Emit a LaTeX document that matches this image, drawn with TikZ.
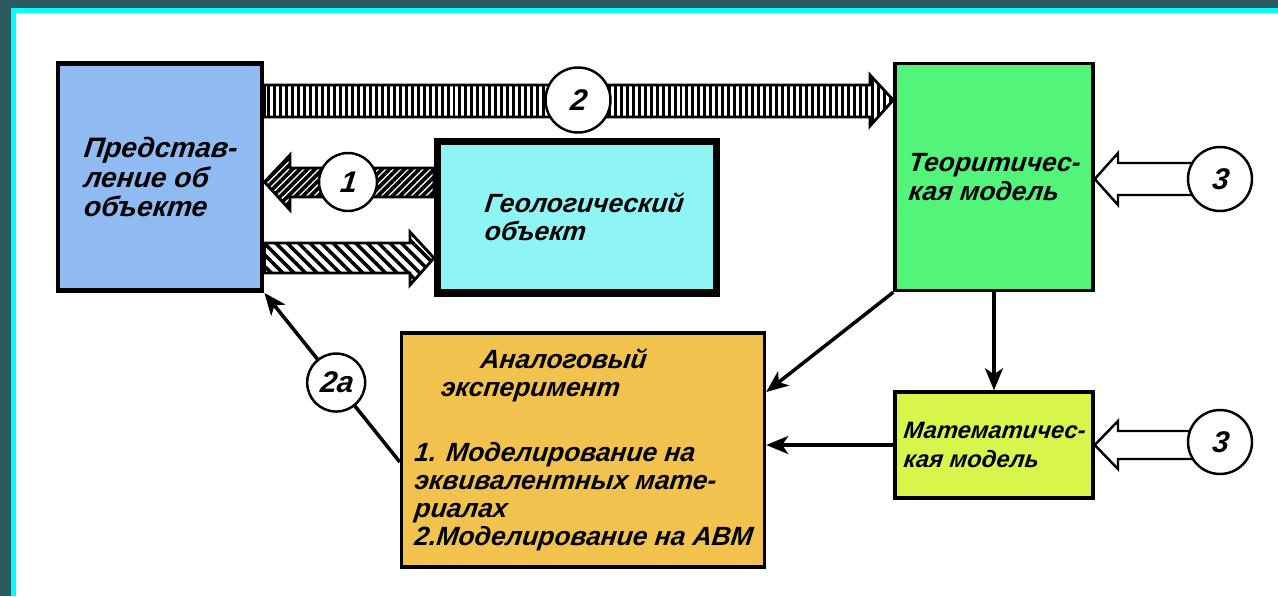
\documentclass[tikz,border=0pt]{standalone}
\usepackage{fontspec}
\setmainfont{Liberation Sans}[BoldItalicFeatures={FakeSlant=0.12}]
\usepackage{tikz}
\usepackage{xcolor}
\usetikzlibrary{positioning,arrows.meta,calc,backgrounds,patterns.meta}

\definecolor{frameteal}{HTML}{2B5B5E}
\definecolor{framecyan}{HTML}{00FFFF}
\definecolor{predblue}{HTML}{8FBAF2}
\definecolor{geocyan}{HTML}{8EF4F4}
\definecolor{teorgreen}{HTML}{52F47A}
\definecolor{mathlime}{HTML}{D7F54B}
\definecolor{analogorange}{HTML}{F2C24F}

\begin{document}
\begin{tikzpicture}[x=0.02cm, y=-0.02cm,
    box/.style={draw, rectangle, inner sep=0pt, align=left,
      font=\fontsize{15}{16}\selectfont\bfseries\itshape},
    numcirc/.style={circle, draw, line width=1.4pt, fill=white, inner sep=0pt,
      font=\fontsize{17}{17}\selectfont\bfseries\itshape},
    conn/.style={line width=2pt, -{Stealth[length=0.44cm,width=0.36cm,inset=0.12cm]}},
    fatarrow/.style={draw, line width=1.6pt, line join=miter},
    hollow/.style={draw, line width=1.4pt, fill=white, line join=miter}]

        \useasboundingbox (0,0) rectangle (1278,596);

        % Draw the blocks
        \node[box, line width=2.8pt, fill=predblue, minimum width=4.08cm, minimum height=4.54cm,
          font=\fontsize{16}{17}\selectfont\bfseries\itshape] (pred) at (160,177) {Представ-\\ление об\\объекте};
        \node[box, line width=4pt, fill=geocyan, minimum width=5.58cm, minimum height=3.04cm] (geo) at (577,217) {\hspace*{0.5em}Геологический\\\hspace*{0.5em}объект};
        \node[box, line width=2pt, fill=teorgreen, minimum width=3.96cm, minimum height=4.54cm] (teor) at (994,177) {Теоритичес-\\кая модель};
        \node[box, line width=2pt, fill=mathlime, minimum width=3.96cm, minimum height=2.12cm,
          font=\fontsize{13.5}{16}\selectfont\bfseries\itshape] (math) at (994,445) {Математичес-\\кая модель};
        \node[box, line width=2pt, fill=analogorange, minimum width=7.26cm, minimum height=4.68cm] (analog) at (583,450)
          {\hspace*{2.5em}Аналоговый\\\hspace*{1em}эксперимент\\[21pt]1. Моделирование на\\эквивалентных мате-\\риалах\\2.Моделирование на АВМ};

        % Numbered circles
        \node[numcirc, minimum size=1.3cm] (c2) at (578,100) {2};
        \node[numcirc, minimum size=1.16cm] (c1) at (348,182) {1};
        \node[numcirc, minimum size=1.28cm] (c3t) at (1220,179) {3};
        \node[numcirc, minimum size=1.28cm] (c3m) at (1220,442) {3};

        % Frame and wide arrows, under the blocks
        \begin{scope}[on background layer]
          \fill[frameteal] (0,0) rectangle (1278,596);
          \fill[framecyan] (11,8) rectangle (1278,596);
          \fill[white] (16,13) rectangle (1278,596);
          \draw[fatarrow, fill=white] (pred.east |- 0,85) -- (870,85) -- (870,75) -- (teor.west |- 0,100) -- (870,126) -- (870,117) -- (pred.east |- 0,117) -- cycle;
          \fill[pattern={Lines[angle=90,distance=3.4pt,line width=1.7pt]}] (pred.east |- 0,85) -- (870,85) -- (870,75) -- (teor.west |- 0,100) -- (870,126) -- (870,117) -- (pred.east |- 0,117) -- cycle;
          \draw[fatarrow, fill=white] (geo.west |- 0,168) -- (290,168) -- (290,155) -- (pred.east |- 0,182) -- (290,210) -- (290,197) -- (geo.west |- 0,197) -- cycle;
          \fill[pattern={Lines[angle=45,distance=3pt,line width=2.1pt]}] (geo.west |- 0,168) -- (290,168) -- (290,155) -- (pred.east |- 0,182) -- (290,210) -- (290,197) -- (geo.west |- 0,197) -- cycle;
          \draw[fatarrow, fill=white] (pred.east |- 0,243) -- (410,243) -- (410,232) -- (geo.west |- 0,258) -- (410,285) -- (410,273) -- (pred.east |- 0,273) -- cycle;
          \fill[pattern={Lines[angle=-45,distance=4.6pt,line width=2pt]}] (pred.east |- 0,243) -- (410,243) -- (410,232) -- (geo.west |- 0,258) -- (410,285) -- (410,273) -- (pred.east |- 0,273) -- cycle;
          \draw[hollow] (c3t.center |- 0,163) -- (1118,163) -- (1118,153) -- (teor.east |- c3t.center) -- (1118,205) -- (1118,195) -- (c3t.center |- 0,195) -- cycle;
          \draw[hollow] (c3m.center |- 0,431) -- (1118,431) -- (1118,421) -- (math.east) -- (1118,469) -- (1118,459) -- (c3m.center |- 0,459) -- cycle;
        \end{scope}

        % Draw connectors
        \draw[conn] (teor.south) -- (math.north);
        \draw[conn] (teor.south west) -- (analog.east |- 0,392);
        \draw[conn] (math.west) -- (analog.east |- math.west);
        \draw[conn] (analog.west |- 0,462) -- (pred.south east) node[numcirc, minimum size=1.16cm, pos=0.47] (c2a) {2a};
      \end{tikzpicture}
\end{document}
